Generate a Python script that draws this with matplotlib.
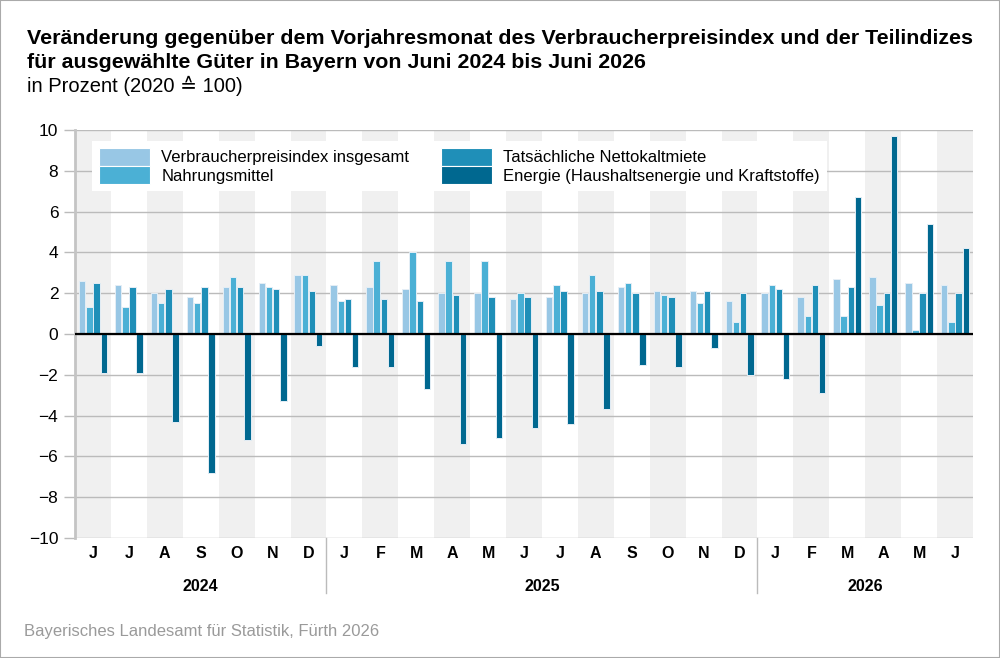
import numpy as np
import matplotlib
matplotlib.use("Agg")
import matplotlib.pyplot as plt
import matplotlib.transforms as mtransforms
from matplotlib.patches import Rectangle

plt.rcParams['font.family'] = ['Liberation Sans', 'DejaVu Sans']

months = ["J", "J", "A", "S", "O", "N", "D",
          "J", "F", "M", "A", "M", "J", "J", "A", "S", "O", "N", "D",
          "J", "F", "M", "A", "M", "J"]
years = ["2024", "2025", "2026"]

vpi = [2.6, 2.4, 2.0, 1.8, 2.3, 2.5, 2.9,
       2.4, 2.3, 2.2, 2.0, 2.0, 1.7, 1.8, 2.0, 2.3, 2.1, 2.1, 1.6,
       2.0, 1.8, 2.7, 2.8, 2.5, 2.4]
nahrung = [1.3, 1.3, 1.5, 1.5, 2.8, 2.3, 2.9,
           1.6, 3.6, 4.0, 3.6, 3.6, 2.0, 2.4, 2.9, 2.5, 1.9, 1.5, 0.6,
           2.4, 0.9, 0.9, 1.4, 0.2, 0.6]
miete = [2.5, 2.3, 2.2, 2.3, 2.3, 2.2, 2.1,
         1.7, 1.7, 1.6, 1.9, 1.8, 1.8, 2.1, 2.1, 2.0, 1.8, 2.1, 2.0,
         2.2, 2.4, 2.3, 2.0, 2.0, 2.0]
energie = [-1.9, -1.9, -4.3, -6.8, -5.2, -3.3, -0.6,
           -1.6, -1.6, -2.7, -5.4, -5.1, -4.6, -4.4, -3.7, -1.5, -1.6, -0.7, -2.0,
           -2.2, -2.9, 6.7, 9.7, 5.4, 4.2]

labels = ["Verbraucherpreisindex insgesamt", "Nahrungsmittel",
          "Tatsächliche Nettokaltmiete", "Energie (Haushaltsenergie und Kraftstoffe)"]
colors = ["#98c7e5", "#4bb0d5", "#1f8fb8", "#006890"]

fig = plt.figure(figsize=(10, 6.58), dpi=100)
ax = fig.add_axes([0.075, 1 - 538 / 658, 0.898, 408 / 658])

x = np.arange(len(months))
n = len(months)

# alternating month bands
for i in range(0, n, 2):
    ax.axvspan(i - 0.5, i + 0.5, color="#f0f0f0", zorder=0, lw=0)

for yv in range(-10, 11, 2):
    ax.axhline(yv, color="#bbbbbb", lw=1, zorder=1)
ax.axhline(0, color="black", lw=1.6, zorder=3)

series = [vpi, nahrung, miete, energie]
step = 0.2
for k, (vals, col, lab) in enumerate(zip(series, colors, labels)):
    ax.bar(x + (k - 1.5) * step, vals, width=0.18, color=col, label=lab,
           edgecolor="#e4eef6", linewidth=0.7, zorder=2)

ax.set_xlim(-0.5, n - 0.5)
ax.set_ylim(-10, 10)
ax.set_yticks(range(-10, 11, 2))
ax.set_yticklabels([("\u2212%d" % -v if v < 0 else str(v))
                    for v in range(-10, 11, 2)], fontsize=12.5)
ax.tick_params(axis="y", length=8, color="#bbbbbb", width=1, pad=4)

ax.set_xticks(x)
ax.set_xticklabels(months, fontsize=11.5, fontweight="bold")
ax.tick_params(axis="x", length=0, pad=6)

for s in ["top", "right", "bottom"]:
    ax.spines[s].set_visible(False)
ax.spines["left"].set_color("#c4c4c4")
ax.spines["left"].set_linewidth(2)

trans = mtransforms.blended_transform_factory(ax.transData, ax.transAxes)
for xs in [6.5, 18.5]:
    ax.plot([xs, xs], [0, -0.135], transform=trans, color="#bbbbbb", lw=1,
            clip_on=False)
for yr, xc in zip(years, [3, 12.5, 21.5]):
    ax.text(xc, -0.12, yr, transform=trans, ha="center", va="center",
            fontsize=11.5, fontweight="bold")

leg = ax.legend(ncol=2, loc="upper left", bbox_to_anchor=(0.0189, 0.973),
                fontsize=12, handlelength=3.1, handleheight=1.3,
                labelspacing=0.0, columnspacing=1.9, handletextpad=0.65,
                borderpad=0.4, borderaxespad=0, fancybox=False, framealpha=1)
leg.get_frame().set_edgecolor("white")
leg.get_frame().set_linewidth(0)
leg.set_zorder(5)
for h in leg.legend_handles:
    h.set_edgecolor("white")
    h.set_linewidth(0.8)

fig.text(0.027, 0.956, "Veränderung gegenüber dem Vorjahresmonat des Verbraucherpreisindex und der Teilindizes\n"
         "für ausgewählte Güter in Bayern von Juni 2024 bis Juni 2026",
         fontsize=15.4, fontweight="bold", va="top", ha="left", linespacing=1.32)
fig.text(0.027, 0.884, "in Prozent (2020 \u2259 100)", fontsize=14.5, va="top", ha="left")
fig.text(0.024, 0.04, "Bayerisches Landesamt für Statistik, Fürth 2026",
         fontsize=12, color="#9a9a9a", va="center", ha="left")

fig.patches.append(Rectangle((0, 0), 1, 1, transform=fig.transFigure, fill=False,
                             edgecolor="#aaaaaa", lw=1.5))

fig.savefig("out.png", dpi=100)
